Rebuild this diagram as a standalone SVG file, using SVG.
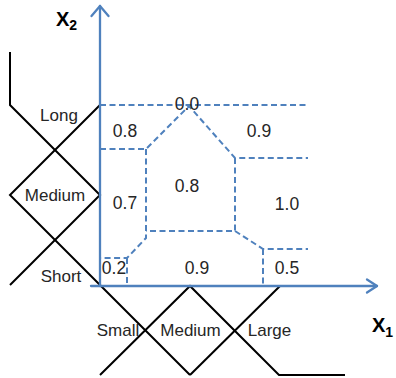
<svg xmlns="http://www.w3.org/2000/svg" width="396" height="378" viewBox="0 0 396 378">
  <style>
    .axis { stroke: #4f81bd; stroke-width: 2.3; fill: none; stroke-linecap: round; stroke-linejoin: round; }
    .dash { stroke: #4f81bd; stroke-width: 2; fill: none; stroke-dasharray: 6 3.5; }
    .mf { stroke: #000; stroke-width: 2; fill: none; stroke-linejoin: miter; }
    .lbl { font-family: "Liberation Sans", Arial, sans-serif; font-size: 17px; fill: #262626; text-anchor: middle; }
    .num { font-family: "Liberation Sans", Arial, sans-serif; font-size: 17.5px; fill: #262626; text-anchor: middle; }
    .ax { font-family: "Liberation Sans", Arial, sans-serif; font-weight: bold; fill: #000; }
  </style>

  <g id="partition">
    <path class="dash" d="M100,105 H308"/>
    <path class="dash" d="M100,149 H146 L189,106 L235,158 H308"/>
    <path class="dash" d="M146,149 V238 L127,258 H100"/>
    <path class="dash" d="M127,258 V286"/>
    <path class="dash" d="M235,158 V231 H146"/>
    <path class="dash" d="M235,231 L263,249 H308"/>
    <path class="dash" d="M263,249 V286"/>
  </g>

  <g id="membership-x2">
    <polyline class="mf" points="10,52 10,105 100,195 10,285"/>
    <polyline class="mf" points="100,105 10,195 190,375"/>
  </g>

  <g id="membership-x1">
    <polyline class="mf" points="100,375 190,286 279,375 345,375"/>
    <polyline class="mf" points="280,286 190,375"/>
  </g>

  <g id="axes">
    <path class="axis" d="M100,286 V6"/>
    <path class="axis" d="M91.5,16 L100,6 L108.5,16"/>
    <path class="axis" d="M91,286 H377"/>
    <path class="axis" d="M367,279.5 L377,286 L367,292.5"/>
  </g>

  <g id="axis-labels">
    <text class="ax" x="56" y="26" font-size="20">X<tspan font-size="14" dy="4">2</tspan></text>
    <text class="ax" x="372" y="332" font-size="20">X<tspan font-size="14" dy="5">1</tspan></text>
  </g>

  <g id="x2-labels">
    <text class="lbl" x="59" y="121">Long</text>
    <text class="lbl" x="55" y="201">Medium</text>
    <text class="lbl" x="61" y="282">Short</text>
  </g>

  <g id="x1-labels">
    <text class="lbl" x="118" y="336">Small</text>
    <text class="lbl" x="190.5" y="336">Medium</text>
    <text class="lbl" x="269.5" y="336">Large</text>
  </g>

  <g id="values">
    <text class="num" x="187" y="110" font-size="16px">0.0</text>
    <text class="num" x="125" y="137">0.8</text>
    <text class="num" x="259" y="137">0.9</text>
    <text class="num" x="187" y="192">0.8</text>
    <text class="num" x="125" y="209">0.7</text>
    <text class="num" x="287" y="210">1.0</text>
    <text class="num" x="114" y="274">0.2</text>
    <text class="num" x="197" y="274">0.9</text>
    <text class="num" x="287" y="274">0.5</text>
  </g>
</svg>
